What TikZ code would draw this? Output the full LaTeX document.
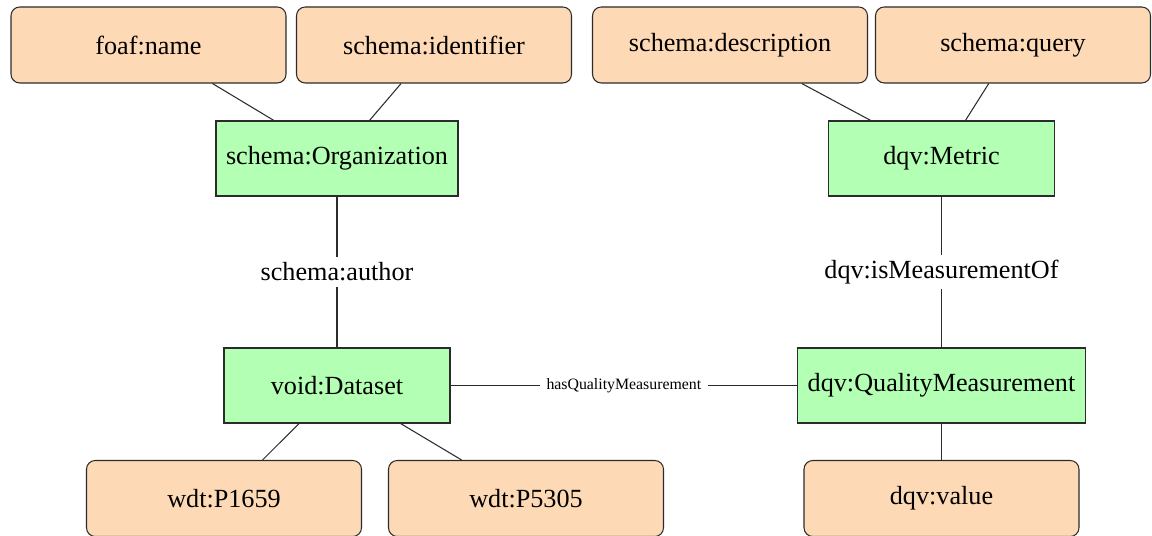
\documentclass[tikz,border=0pt]{standalone}
\usepackage{fontspec}
\setmainfont{Liberation Serif}
\usepackage{xcolor}
\usepackage{tikz}
\usetikzlibrary{positioning}
\definecolor{kgpeach}{HTML}{FDD9B5}
\definecolor{kggreen}{HTML}{B3FFB3}
\definecolor{kgline}{HTML}{2B2B2B}

\begin{document}
\begin{tikzpicture}[
  prop/.style={draw=kgline, fill=kgpeach, rounded corners=5pt, line width=0.6pt, minimum width=5.5cm, minimum height=1.52cm, align=center, font=\fontsize{14.9}{18}\selectfont},
  cls/.style={draw=kgline, fill=kggreen, line width=0.6pt, minimum width=4.52cm, minimum height=1.5cm, inner xsep=0.2cm, align=center, font=\fontsize{14.9}{18}\selectfont},
  lnk/.style={kgline, line width=0.6pt},
  lbl/.style={fill=white, text=black, inner sep=3pt, font=\fontsize{14.9}{18}\selectfont},
  small/.style={fill=white, text=black, inner sep=4pt, font=\fontsize{9}{11}\selectfont}
]
  \useasboundingbox (0,0) rectangle (23.04,-10.72);

  % classes
  \node[cls] (org) at (6.74,-3.17) {schema:Organization};
  \node[cls] (metric) at (18.83,-3.17) {dqv:Metric};
  \node[cls] (dataset) at (6.74,-7.71) {void:Dataset};
  \node[cls] (qm) at (18.83,-7.71) {dqv:QualityMeasurement};

  % properties
  \node[prop] (foaf) at (2.97,-0.9) {foaf:name};
  \node[prop] (ident) at (8.68,-0.9) {schema:identifier};
  \node[prop] (desc) at (14.6,-0.9) {schema:description};
  \node[prop] (query) at (20.26,-0.9) {schema:query};
  \node[prop] (p1659) at (4.48,-9.97) {wdt:P1659};
  \node[prop] (p5305) at (10.52,-9.97) {wdt:P5305};
  \node[prop] (value) at (18.83,-9.97) {dqv:value};

  \draw[lnk] (foaf) -- (org);
  \draw[lnk] (ident) -- (org);
  \draw[lnk] (desc) -- (metric);
  \draw[lnk] (query) -- (metric);
  \draw[lnk] (org) -- node[lbl]{schema:author} (dataset);
  \draw[lnk] (metric) -- node[lbl]{dqv:isMeasurementOf} (qm);
  \draw[lnk] (dataset) -- node[small]{hasQualityMeasurement} (qm);
  \draw[lnk] (dataset) -- (p1659);
  \draw[lnk] (dataset) -- (p5305);
  \draw[lnk] (qm) -- (value);
\end{tikzpicture}
\end{document}
